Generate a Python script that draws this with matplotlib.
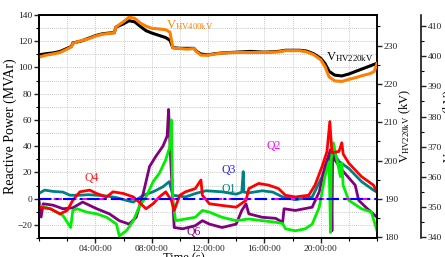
import matplotlib
matplotlib.use("Agg")
import matplotlib.pyplot as plt
from matplotlib.ticker import MultipleLocator, FixedLocator

plt.rcParams['font.family'] = ['Liberation Serif', 'DejaVu Serif']
plt.rcParams['mathtext.fontset'] = 'custom'
plt.rcParams['mathtext.rm'] = 'Liberation Serif'
plt.rcParams['mathtext.it'] = 'Liberation Serif:italic'

# ---------------- data (time in hours) ----------------
t_v220 = [0, 0.5, 1.0, 1.5, 2.0, 2.3, 2.4, 3.0, 3.5, 4.0, 4.5, 5.0, 5.35, 5.45, 6.0, 6.4, 6.8, 7.2,
          7.6, 8.0, 8.5, 9.0, 9.3, 9.5, 10.0, 10.5, 11.0, 11.2, 11.5, 12.0, 12.5, 13.0, 14.0, 15.0,
          16.0, 17.0, 17.5, 18.0, 18.5, 19.0, 19.5, 20.0, 20.3, 20.6, 21.0, 21.5, 22.0, 22.5, 23.0, 23.5, 24.0]
v220 = [227.6, 227.9, 228.1, 228.5, 229.3, 229.8, 230.7, 231.2, 231.9, 232.6, 233.1, 233.3, 233.4, 234.8,
        235.7, 236.5, 236.2, 235.0, 233.9, 233.3, 232.7, 232.1, 231.4, 229.5, 229.3, 229.3, 229.3, 228.5,
        227.8, 227.6, 227.9, 228.1, 228.3, 228.5, 228.3, 228.5, 228.8, 228.8, 228.8, 228.6, 227.9, 226.7,
        225.4, 223.3, 222.3, 222.1, 222.6, 223.3, 224.0, 224.7, 225.4]

t_v400 = [0, 0.5, 1.0, 1.5, 2.0, 2.3, 2.4, 3.0, 3.5, 4.0, 4.5, 5.0, 5.35, 5.45, 6.0, 6.4, 6.8, 7.2,
          7.6, 8.0, 8.5, 9.0, 9.3, 9.5, 10.0, 10.5, 11.0, 11.2, 11.5, 12.0, 12.5, 13.0, 14.0, 15.0,
          16.0, 17.0, 17.5, 18.0, 18.5, 19.0, 19.5, 20.0, 20.3, 20.6, 21.0, 21.5, 22.0, 22.5, 23.0, 23.5,
          23.8, 24.0]
v400 = [399.65, 400.3, 400.7, 401.2, 402.3, 403.1, 404.2, 405.1, 405.7, 406.6, 407.25, 407.5, 407.7,
        409.6, 411.4, 412.9, 412.5, 410.9, 409.9, 409.2, 409.0, 408.7, 407.9, 402.7, 402.5, 402.3, 402.5,
        401.4, 400.3, 400.3, 400.7, 401.0, 401.2, 401.2, 401.2, 401.4, 401.8, 401.8, 401.8, 401.4, 400.5,
        398.8, 396.6, 393.1, 391.8, 391.6, 392.3, 392.9, 393.6, 394.2, 394.9, 397.5]

t_q1 = [0, 0.4, 1.0, 1.7, 2.2, 2.9, 3.5, 4.1, 4.8, 5.5, 6.2, 6.7, 7.4, 8.1, 8.8, 9.25, 9.5, 10.4, 11.1,
        11.85, 13.0, 14.0, 14.4, 14.5, 14.55, 14.9, 15.85, 16.6, 17.3, 18.2, 19.4, 20.1, 20.55, 20.9,
        21.3, 22.0, 22.9, 23.75, 24.0]
q1 = [4, 6.5, 5.5, 5, 2.6, 2.6, 3, 2.6, 2, 0.8, -1.3, -2.6, 2.6, 5.2, 9, 13, 2.6, 1.3, 3.9,
      6, 5.2, 3.4, 5, 20.6, 5, 4.4, 6, 5, 1.3, -0.8, 1.3, 16.8, 29.7, 35,
      28.4, 23, 13, 6.5, 5]

t_q2 = [0, 24]
q2 = [0, 0]
t_q3 = [0, 24]
q3 = [0, 0]

t_q4 = [0, 0.8, 1.5, 2.0, 2.4, 2.9, 3.6, 4.1, 4.8, 5.25, 6.0, 6.7, 7.1, 7.6, 8.1, 8.55, 9.0, 9.4, 9.6,
        10.0, 10.4, 11.1, 11.5, 11.6, 12.1, 13.0, 14.0, 14.7, 14.9, 15.6, 16.3, 17.0, 17.5, 18.2, 19.15,
        19.6, 20.1, 20.45, 20.65, 20.8, 21.3, 21.5, 21.6, 22.0, 22.9, 23.75, 24.0]
q4 = [-6.5, -7.7, -11.6, -9, -1.3, 5.2, 6.5, 3.9, 1.3, 5.2, 3.9, 1.3, -2.6, -7.7, -3.9, 1.3, 5.2, -1.3, -9,
      2.6, 5.2, 7.7, 14.2, 2.6, -3.9, -5.2, -6.5, -1.3, 7.7, 11.6, 10.3, 7.7, 2.6, 1.3, 2.6,
      10.3, 24.5, 36, 58.8, 35, 36, 42.6, 34, 27, 16.8, 10.3, 5.2]

t_q5 = [0, 0.8, 1.7, 2.25, 2.4, 2.7, 3.4, 4.1, 4.8, 5.5, 5.7, 6.2, 6.7, 7.1, 7.6, 8.1, 8.55, 9.0, 9.3,
        9.4, 9.5, 9.7, 10.4, 11.1, 11.6, 12.1, 13.0, 14.0, 14.9, 15.85, 16.8, 17.3, 17.5, 18.2, 18.9,
        19.4, 19.9, 20.3, 20.6, 20.7, 20.75, 20.9, 21.4, 21.5, 21.6, 22.0, 22.9, 23.6, 24.0]
q5 = [-5.2, -7.7, -12.9, -22, -9, -7.7, -10.3, -11.6, -14.2, -19.4, -28.4, -24.5, -16.8, -6.5, 1.3, 12.9,
      19.4, 29.7, 40, 60, -1.3, -16.8, -15.5, -14.2, -9, -10.3, -14.2, -16.8, -15.5, -16.8, -18, -19, -23,
      -24.5, -23, -19.4, -6.5, 16.8, 28, -25.8, 30, 42.6, 16.8, 27, 10, -1.3, -7.7, -10.3, -24.5]

t_q6 = [0, 0.15, 0.3, 1.0, 1.7, 2.4, 3.1, 4.1, 5.0, 5.7, 6.4, 6.9, 7.4, 7.85, 8.3, 8.8, 9.1, 9.2, 9.35,
        9.6, 10.2, 11.1, 11.6, 12.1, 13.0, 14.0, 14.4, 14.7, 14.9, 15.85, 16.8, 17.3, 17.4, 18.2, 19.4,
        19.9, 20.3, 20.7, 20.8, 20.85, 21.0, 21.5, 22.45, 22.7, 23.2, 24.0]
q6 = [-1.3, -14, -3.9, -5, -7.7, -7, -2.6, -7.7, -11.6, -16.8, -19.4, -14.2, 3.9, 24.5, 32.3, 40, 47.7,
      68, 30, -22, -23, -20.6, -16.8, -19.4, -22, -19.4, -9, -4, -11.6, -14.2, -15, -18, -7.7, -9, -6.5,
      5.2, 24.5, 37.4, -24.5, 35, 29.7, 22, 10.3, -1.3, -6.5, -14.2]

x_ticks = [4, 8, 12, 16, 20]
x_ticklabels = ['04:00:00', '08:00:00', '12:00:00', '16:00:00', '20:00:00']

# ---------------- figure ----------------
fig = plt.figure(figsize=(4.45, 2.57), dpi=100)
ax = fig.add_axes([39/445, 19/257, 338/445, 223/257])
ax2 = ax.twinx()
ax3 = ax.twinx()
ax3.spines['right'].set_position(('axes', 1 + 43.5/338))

lw = 2.0
ax.plot(t_q1, q1, color='#008080', lw=lw, zorder=3)
ax.plot(t_q6, q6, color='#800080', lw=lw, zorder=4)
ax.plot(t_q5, q5, color='#00ee00', lw=lw, zorder=5)
ax.plot(t_q4, q4, color='#ff0000', lw=lw, zorder=6)
ax.plot(t_q2, q2, color='#ff00ff', lw=1.5, ls=(0, (4, 3)), zorder=7)
ax.plot(t_q3, q3, color='#0000ff', lw=1.5, ls=(0, (6, 2, 1.5, 2)), zorder=8)

ax2.plot(t_v220, v220, color='black', lw=2.2)
ax3.plot(t_v400, v400, color='#ff8000', lw=2.2)

ax.set_xlim(0, 24)
ax.set_ylim(-30, 140)
ax2.set_ylim(179.8, 238.0)
ax3.set_ylim(339.8, 413.6)

ax.xaxis.set_major_locator(FixedLocator(x_ticks))
ax.set_xticklabels(x_ticklabels)
ax.xaxis.set_minor_locator(MultipleLocator(2))
ax.yaxis.set_major_locator(MultipleLocator(20))
ax.yaxis.set_minor_locator(MultipleLocator(10))
ax2.yaxis.set_major_locator(MultipleLocator(10))
ax2.yaxis.set_minor_locator(MultipleLocator(5))
ax3.yaxis.set_major_locator(MultipleLocator(10))
ax3.yaxis.set_minor_locator(MultipleLocator(5))

for a in (ax, ax2, ax3):
    a.tick_params(which='major', length=3.5, width=1, labelsize=6.8, pad=1.5, colors='#222222')
    a.tick_params(which='minor', length=2.5, width=0.8)
    for s in a.spines.values():
        s.set_linewidth(1.1)

ax.grid(True, which='both', color='#b5b5b5', ls=(0, (1, 1.5)), lw=0.6, zorder=0)
ax.set_axisbelow(True)

ax.set_ylabel('Reactive Power (MVAr)', fontsize=10)
ax.yaxis.set_label_coords(-0.065, 0.5)
ax.set_xlabel('Time (s)', fontsize=9, va='top')
ax.xaxis.set_label_coords(0.43, -0.066)

ax2.set_ylabel(r'V$_{\mathrm{HV220kV}}$ (kV)', fontsize=9, rotation=90)
ax2.yaxis.set_label_coords(1.06, 0.5)
ax3.set_ylabel(r'V$_{\mathrm{HV400kV}}$ (kV)', fontsize=9, rotation=90)
ax3.yaxis.set_label_coords(1.19, 0.5)

ax.text(3.74, 15.7, 'Q4', color='#ff2020', fontsize=8.5, ha='center', va='center', zorder=10)
ax.text(13.49, 22, 'Q3', color='#2020ff', fontsize=8.5, ha='center', va='center', zorder=10)
ax.text(13.49, 7.3, 'Q1', color='#008080', fontsize=8.5, ha='center', va='center', zorder=10)
ax.text(16.64, 40.3, 'Q2', color='#ff00ff', fontsize=8.5, ha='center', va='center', zorder=10)
ax.text(11.01, -25.8, 'Q6', color='#800080', fontsize=8.5, ha='center', va='center', zorder=10)
ax.text(9.0, 132.6, r'V$_{\mathrm{HV400kV}}$', color='#ff8000', fontsize=9, ha='left', va='center', zorder=10)
ax.text(20.38, 108.2, r'V$_{\mathrm{HV220kV}}$', color='black', fontsize=9, ha='left', va='center', zorder=10)

fig.savefig('out.png', dpi=100)
